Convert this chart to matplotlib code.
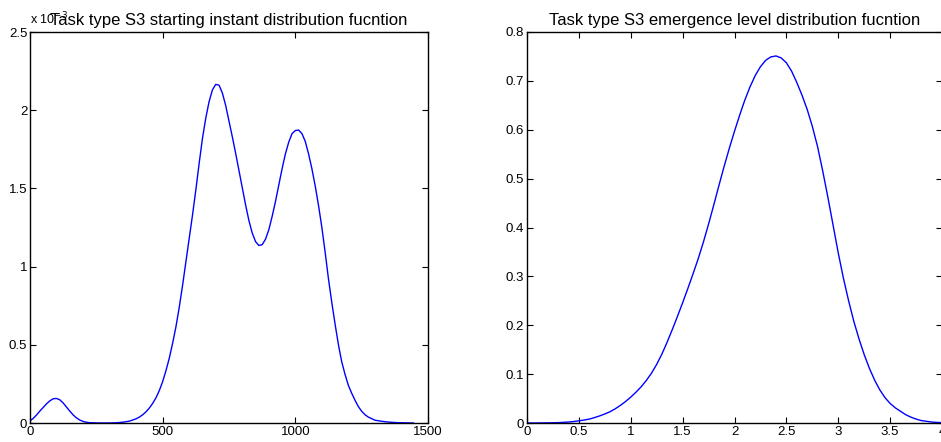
import numpy as np
import matplotlib
matplotlib.use("Agg")
import matplotlib.pyplot as plt
from matplotlib.ticker import FuncFormatter

# courbe gauche : instant de début (valeurs en 1e-3)
start_x = [0, 12.5, 25, 37.5, 50, 62.5, 75, 87.5, 100, 112.5, 125, 137.5,
           150, 162.5, 175, 187.5, 200, 212.5, 225, 250, 275, 300, 325, 350,
           375, 400, 412.5, 425, 437.5, 450, 462.5, 475, 487.5, 500, 512.5,
           525, 537.5, 550, 562.5, 575, 587.5, 600, 612.5, 625, 637.5, 650,
           662.5, 675, 687.5, 700, 712.5, 725, 737.5, 750, 762.5, 775, 787.5,
           800, 812.5, 825, 837.5, 850, 862.5, 875, 887.5, 900, 912.5, 925,
           937.5, 950, 962.5, 975, 987.5, 1000, 1012.5, 1025, 1037.5, 1050,
           1062.5, 1075, 1087.5, 1100, 1112.5, 1125, 1137.5, 1150, 1162.5,
           1175, 1187.5, 1200, 1212.5, 1225, 1237.5, 1250, 1262.5, 1275,
           1300, 1325, 1350, 1375, 1400, 1445]
start_y = [0.013, 0.03, 0.052, 0.077, 0.10, 0.123, 0.142, 0.155, 0.157, 0.148,
           0.128, 0.102, 0.076, 0.052, 0.033, 0.019, 0.01, 0.005, 0.002,
           0.0005, 0.0, 0.0003, 0.0015, 0.005, 0.012, 0.027, 0.038, 0.053,
           0.072, 0.096, 0.126, 0.162, 0.208, 0.265, 0.335, 0.415, 0.51,
           0.615, 0.74, 0.88, 1.03, 1.18, 1.33, 1.49, 1.66, 1.82, 1.95,
           2.055, 2.13, 2.165, 2.16, 2.11, 2.03, 1.93, 1.83, 1.725, 1.615,
           1.505, 1.395, 1.295, 1.215, 1.16, 1.135, 1.14, 1.175, 1.235, 1.32,
           1.415, 1.52, 1.625, 1.72, 1.795, 1.85, 1.87, 1.873, 1.85, 1.80,
           1.72, 1.625, 1.515, 1.39, 1.25, 1.09, 0.92, 0.77, 0.63, 0.50,
           0.39, 0.31, 0.24, 0.19, 0.145, 0.105, 0.075, 0.053, 0.038,
           0.018, 0.011, 0.006, 0.003, 0.0015, 0.0]

# courbe droite : niveau d'urgence
level_x = [0.0, 0.05, 0.1, 0.15, 0.2, 0.25, 0.3, 0.35, 0.4, 0.45, 0.5, 0.55,
           0.6, 0.65, 0.7, 0.75, 0.8, 0.85, 0.9, 0.95, 1.0, 1.05, 1.1, 1.15,
           1.2, 1.25, 1.3, 1.35, 1.4, 1.45, 1.5, 1.55, 1.6, 1.65, 1.7, 1.75,
           1.8, 1.85, 1.9, 1.95, 2.0, 2.05, 2.1, 2.15, 2.2, 2.25, 2.3, 2.35,
           2.4, 2.45, 2.5, 2.55, 2.6, 2.65, 2.7, 2.75, 2.8, 2.85, 2.9, 2.95,
           3.0, 3.05, 3.1, 3.15, 3.2, 3.25, 3.3, 3.35, 3.4, 3.45, 3.5, 3.55,
           3.6, 3.65, 3.7, 3.75, 3.8, 3.85, 3.9, 3.95, 4.0]
level_y = [0.0, 0.0, 0.0001, 0.0002, 0.0003, 0.0005, 0.0008, 0.0013, 0.002,
           0.003, 0.0045, 0.006, 0.008, 0.011, 0.0145, 0.0185, 0.023, 0.029,
           0.036, 0.044, 0.053, 0.063, 0.074, 0.087, 0.102, 0.12, 0.141,
           0.165, 0.191, 0.218, 0.246, 0.275, 0.305, 0.336, 0.37, 0.407,
           0.446, 0.486, 0.525, 0.562, 0.597, 0.630, 0.661, 0.688, 0.711,
           0.729, 0.742, 0.749, 0.751, 0.747, 0.737, 0.72, 0.697, 0.671,
           0.642, 0.607, 0.566, 0.516, 0.462, 0.405, 0.348, 0.296, 0.25,
           0.208, 0.172, 0.14, 0.112, 0.088, 0.068, 0.052, 0.04, 0.031,
           0.024, 0.017, 0.012, 0.008, 0.005, 0.0035, 0.002, 0.0012, 0.0008]

plt.rcParams['font.family'] = ['Liberation Sans', 'DejaVu Sans']

fmt = FuncFormatter(lambda v, p: '%g' % v)

fig = plt.figure(figsize=(9.41, 4.42), dpi=100)

def style(ax):
    ax.tick_params(direction='in', top=True, right=True, length=4,
                   width=0.8, labelsize=9.5, pad=2)
    for s in ax.spines.values():
        s.set_linewidth(1.0)
    ax.xaxis.set_major_formatter(fmt)
    ax.yaxis.set_major_formatter(fmt)

ax1 = fig.add_axes([30/941, 1 - 423/442, 398/941, 391/442])
ax1.plot(start_x, start_y, color='#0000ff', lw=1.0)
ax1.set_xlim(0, 1500)
ax1.set_ylim(0, 2.5)
ax1.set_xticks([0, 500, 1000, 1500])
ax1.set_yticks([0, 0.5, 1, 1.5, 2, 2.5])
style(ax1)
ax1.text(0.0, 1.012, r'x 10$^{-3}$', transform=ax1.transAxes, fontsize=9,
         ha='left', va='bottom')
ax1.set_title('Task type S3 starting instant distribution fucntion',
              fontsize=12, pad=5)

ax2 = fig.add_axes([527/941, 1 - 423/442, 415/941, 391/442])
ax2.plot(level_x, level_y, color='#0000ff', lw=1.0)
ax2.set_xlim(0, 4)
ax2.set_ylim(0, 0.8)
ax2.set_xticks(np.arange(0, 4.01, 0.5))
ax2.set_yticks(np.arange(0, 0.81, 0.1))
style(ax2)
ax2.set_title('Task type S3 emergence level distribution fucntion',
              fontsize=12, pad=5)

fig.savefig('out.png', dpi=100)
plt.close()
